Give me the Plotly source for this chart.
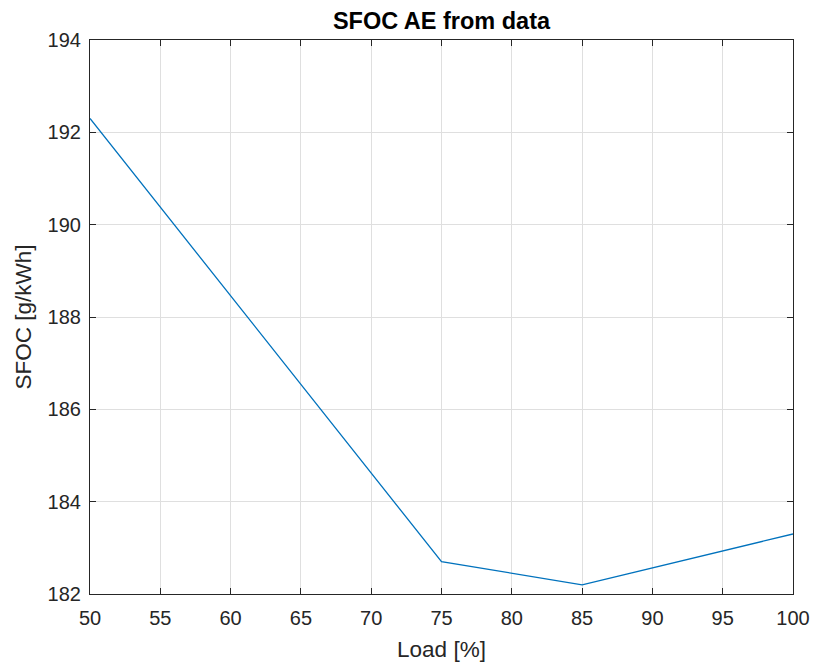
import plotly.graph_objects as go

load_pct = [50, 75, 85, 100]
sfoc = [192.3, 182.7, 182.2, 183.3]
x_ticks = [50, 55, 60, 65, 70, 75, 80, 85, 90, 95, 100]
y_ticks = [182, 184, 186, 188, 190, 192, 194]

FONT = "Liberation Sans, Arial, sans-serif"

fig = go.Figure()
fig.add_trace(go.Scatter(x=load_pct, y=sfoc, mode="lines",
                         line=dict(color="#0072BD", width=1.3), showlegend=False))

axis_common = dict(
    showline=True, linecolor="#262626", linewidth=1.2, mirror="allticks",
    ticks="inside", ticklen=6, tickcolor="#262626",
    showgrid=True, gridcolor="#dfdfdf", gridwidth=1,
    zeroline=False, automargin=False,
    tickfont=dict(family=FONT, size=20, color="#262626"),
)

fig.update_xaxes(range=[50, 100], tickvals=x_ticks, ticklabelstandoff=6,
                 title=dict(text="Load [%]", standoff=13,
                            font=dict(family=FONT, size=22.5, color="#262626")),
                 **axis_common)
fig.update_yaxes(range=[182, 194], tickvals=y_ticks, ticklabelstandoff=4,
                 title=dict(text="SFOC [g/kWh]", standoff=9,
                            font=dict(family=FONT, size=22.5, color="#262626")),
                 **axis_common)

fig.update_layout(
    width=817, height=666,
    margin=dict(l=90, r=24, t=40, b=72),
    paper_bgcolor="white", plot_bgcolor="white",
    title=dict(text="<b>SFOC AE from data</b>", x=0.5, xanchor="center",
               xref="paper", y=1, yref="paper", yanchor="bottom", pad=dict(b=11),
               font=dict(family=FONT, size=23.5, color="black")),
)

fig.write_html("out.html", config={"displayModeBar": False},
               post_script="document.body.style.margin='0';")
